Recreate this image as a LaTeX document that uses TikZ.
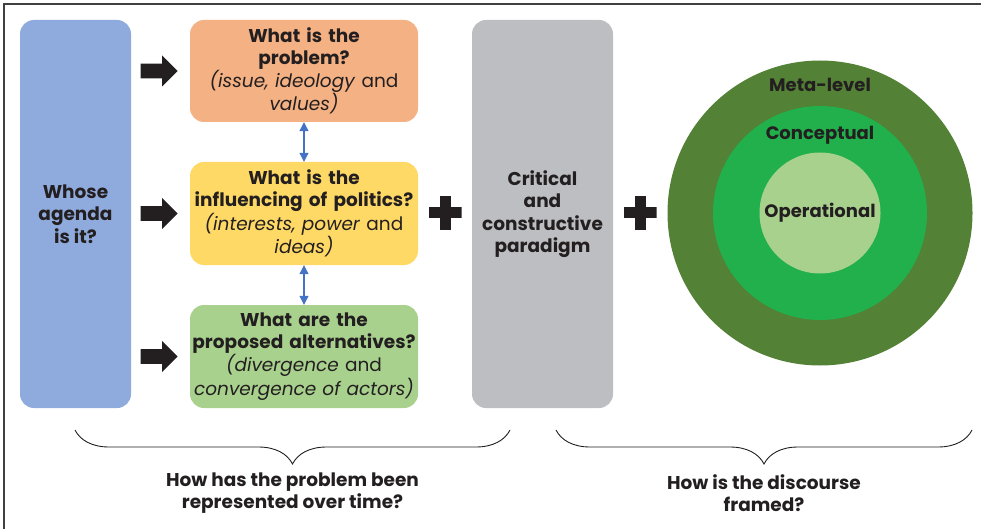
\documentclass[tikz,border=0pt]{standalone}
\usepackage{fontspec}
\setmainfont{Poppins}
\usetikzlibrary{positioning,shapes.arrows,decorations.pathreplacing,arrows.meta}

% Palette
\definecolor{ink}{HTML}{231F20}
\definecolor{agendablue}{HTML}{8FAADC}
\definecolor{problemorange}{HTML}{F4B183}
\definecolor{politicsyellow}{HTML}{FFD966}
\definecolor{altgreen}{HTML}{A9D18E}
\definecolor{paradigmgrey}{HTML}{BDBEC2}
\definecolor{linkblue}{HTML}{4472C4}
\definecolor{metagreen}{HTML}{538135}
\definecolor{conceptgreen}{HTML}{21B04B}
\definecolor{opgreen}{HTML}{A9D18E}

\tikzset{
  box/.style={rounded corners=14pt, align=center, text=ink, inner sep=0pt,
    font=\fontsize{18.5}{22}\selectfont},
  question/.style={box, minimum width=228pt, minimum height=102pt, text width=226pt},
  pillar/.style={box, minimum height=388pt, font=\fontsize{18.5}{22.5}\selectfont\bfseries},
  push/.style={single arrow, fill=ink, inner sep=7pt, minimum height=37pt,
    minimum width=31pt, single arrow head extend=8pt},
  plus/.style={minimum size=33pt, inner sep=0pt, path picture={
    \fill[ink] ([xshift=-16.5pt,yshift=-5.5pt]path picture bounding box.center)
      rectangle ([xshift=16.5pt,yshift=5.5pt]path picture bounding box.center);
    \fill[ink] ([xshift=-5.5pt,yshift=-16.5pt]path picture bounding box.center)
      rectangle ([xshift=5.5pt,yshift=16.5pt]path picture bounding box.center);}},
  link/.style={linkblue, line width=1.1pt,
    {Triangle[width=9pt,length=9pt]}-{Triangle[width=9pt,length=9pt]}},
  ring/.style={circle, inner sep=0pt, text=ink, font=\fontsize{18}{20}\selectfont\bfseries},
  bracket/.style={draw=ink, line width=0.9pt, decorate,
    decoration={brace, mirror, amplitude=34pt, aspect=0.5}},
  caption/.style={align=center, text=ink, font=\fontsize{18.5}{22.5}\selectfont\bfseries}
}

\begin{document}
\begin{tikzpicture}[x=1pt,y=-1pt]
\useasboundingbox (0,0) rectangle (981,529);
% Frame along the top and left edge
\draw[black!75, line width=1.4pt] (4,529) -- (4,4) -- (981,4);

% Left column: whose agenda
\node[pillar, fill=agendablue, minimum width=111pt] (agenda) at (75.5,214)
  {Whose\\agenda\\is it?};

% The three questions
\node[question, fill=problemorange] (problem) at (304,71)
  {\textbf{What is the}\\\textbf{problem?}\\\textit{(issue, ideology} and\\\textit{values)}};
\node[question, fill=politicsyellow, minimum height=103pt] (politics) at (304,213.5)
  {\textbf{What is the}\\\textbf{influencing of politics?}\\\textit{(interests, power} and\\\textit{ideas)}};
\node[question, fill=altgreen, minimum height=103pt] (alternatives) at (304,356.5)
  {\textbf{What are the}\\\textbf{proposed alternatives?}\\\textit{(divergence} and\\\textit{convergence of actors)}};

% Arrows from the agenda into each question
\node[push, left=12pt of problem] (pushA) {};
\node[push, left=12pt of politics] (pushB) {};
\node[push, left=12pt of alternatives] (pushC) {};

\draw[link] (problem) -- (politics);
\draw[link] (politics) -- (alternatives);

% Paradigm column
\node[plus] (plusA) at (445,213) {};
\node[pillar, fill=paradigmgrey, minimum width=141pt] (paradigm) at (542.5,214)
  {Critical\\and\\constructive\\paradigm};
\node[plus] (plusB) at (640,213) {};

% Levels of framing
\node[ring, fill=metagreen, minimum size=305pt] (meta) at (820,213) {};
\node[ring, fill=conceptgreen, minimum size=214pt] (concept) at (meta.center) {};
\node[ring, fill=opgreen, minimum size=121pt] (operational) at (meta.center) {Operational};
\node[ring] (metalabel) at (820,85) {Meta-level};
\node[ring] (conceptlabel) at (820,135) {Conceptual};

% Braces and their captions
\coordinate (histL) at (75,430);
\coordinate (histR) at (510,430);
\coordinate (frameL) at (556,430);
\coordinate (frameR) at (972,430);
\draw[bracket] (histL) -- (histR);
\draw[bracket] (frameL) -- (frameR);
\node[caption] (histtext) at (292.5,493) {How has the problem been\\represented over time?};
\node[caption] (frametext) at (764,493) {How is the discourse\\framed?};
\end{tikzpicture}
\end{document}
